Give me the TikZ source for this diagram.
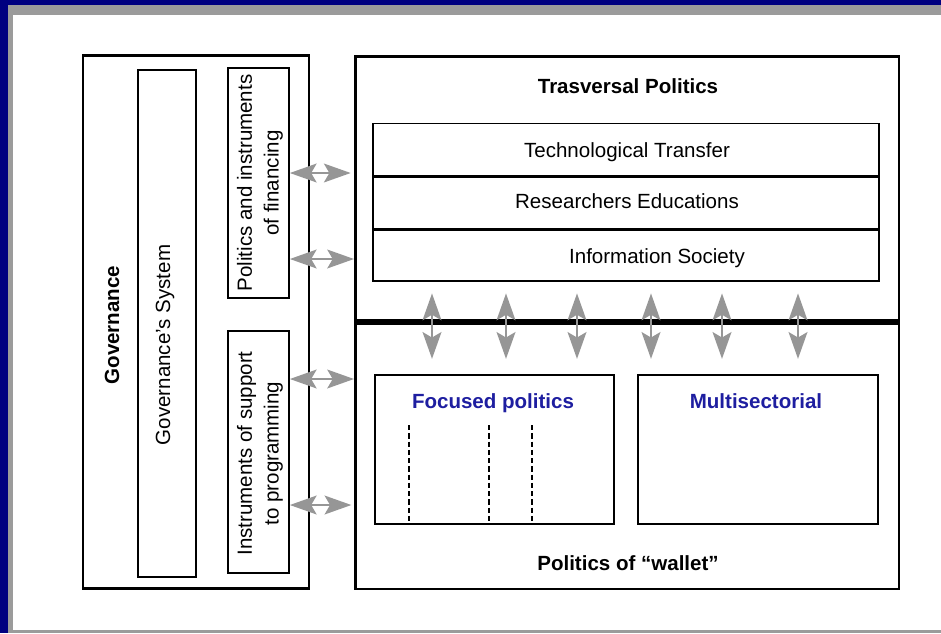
\documentclass[tikz,border=0pt]{standalone}
\usepackage{fontspec}
\setmainfont{Liberation Sans}
\usetikzlibrary{arrows.meta}
\definecolor{framenavy}{RGB}{0,0,128}
\definecolor{framegray}{RGB}{155,155,155}
\definecolor{arrowgray}{RGB}{150,150,150}
\definecolor{titleblue}{RGB}{30,30,160}
\begin{document}
\begin{tikzpicture}[x=0.75pt,y=-0.75pt,
  outerbox/.style={draw, line width=2.2pt, inner sep=0pt},
  innerbox/.style={draw, line width=1.2pt, inner sep=0pt},
  lbl/.style={inner sep=0pt, align=center, font=\fontsize{15.4}{20}\selectfont},
  boldlbl/.style={inner sep=0pt, font=\fontsize{15.4}{20}\selectfont\bfseries},
  dblarrow/.style={draw=arrowgray, line width=2.2pt,
    {Stealth[length=20pt,width=14pt,inset=4pt]}-{Stealth[length=20pt,width=14pt,inset=4pt]}},
  dashline/.style={line width=1pt, dash pattern=on 4pt off 2.2pt}]
\useasboundingbox (0,0) rectangle (941,633);
% window frame
\fill[framenavy] (0,0) rectangle (941,5);
\fill[framenavy] (0,0) rectangle (8,633);
\fill[framegray] (8,5) rectangle (941,15);
\fill[framegray] (8,5) rectangle (13,633);
\fill[framegray] (8,630) rectangle (941,633);
% governance side
\node[outerbox, minimum width=169.5pt, minimum height=399.75pt] (gov) at (196,322) {};
\node[boldlbl, rotate=90, anchor=base] (govtxt) at (119,325) {Governance};
\node[innerbox, minimum width=43.5pt, minimum height=380.25pt] (govsys) at (167,323.5) {};
\node[lbl, rotate=90, anchor=base] (govsystxt) at (170,345) {Governance's System};
\node[innerbox, minimum width=45.75pt, minimum height=172.5pt] (finbox) at (258.5,183) {};
\node[lbl, rotate=90] (fintxt) at (260,183) {Politics and instruments\\of financing};
\node[innerbox, minimum width=45.75pt, minimum height=181.5pt] (progbox) at (258.5,452) {};
\node[lbl, rotate=90] (progtxt) at (260,453.5) {Instruments of support\\to programming};
% politics side
\node[outerbox, minimum width=407.6pt, minimum height=399.4pt] (trans) at (627.25,322.75) {};
\node[boldlbl, anchor=base] (transtxt) at (628,93) {Trasversal Politics};
\node[innerbox, minimum width=379.5pt, minimum height=39.4pt] (techrow) at (626,149.75) {};
\node[innerbox, minimum width=379.5pt, minimum height=39.4pt] (edurow) at (626,202.5) {};
\node[innerbox, minimum width=379.5pt, minimum height=39.4pt] (inforow) at (626,255) {};
\draw[line width=1.9pt] (techrow.south west) -- (techrow.south east);
\draw[line width=1.9pt] (edurow.south west) -- (edurow.south east);
\node[lbl, anchor=base] (techtxt) at (627,157) {Technological Transfer};
\node[lbl, anchor=base] (edutxt) at (627,208.5) {Researchers Educations};
\node[lbl, anchor=base] (infotxt) at (657,263) {Information Society};
\draw[line width=4.3pt] (trans.west |- 0,321.7) -- (trans.east |- 0,321.7);
\node[innerbox, minimum width=179.25pt, minimum height=111.75pt] (focus) at (494.5,449.5) {};
\node[boldlbl, text=titleblue, anchor=base] (focustxt) at (493,408) {Focused politics};
\draw[dashline] (409,425) -- (focus.south -| 409,0);
\draw[dashline] (489,425) -- (focus.south -| 489,0);
\draw[dashline] (532,425) -- (focus.south -| 532,0);
\node[innerbox, minimum width=180pt, minimum height=111.75pt] (multi) at (758,449.5) {};
\node[boldlbl, text=titleblue, anchor=base] (multitxt) at (756,408) {Multisectorial};
\node[boldlbl, anchor=base] (wallettxt) at (628,570) {Politics of “wallet”};
% links
\draw[dblarrow, shorten >=2.5pt] (finbox.east |- 0,173) -- (trans.west |- 0,173);
\draw[dblarrow] (finbox.east |- 0,259) -- (trans.west |- 0,259);
\draw[dblarrow] (progbox.east |- 0,379) -- (trans.west |- 0,379);
\draw[dblarrow, shorten >=2pt] (progbox.east |- 0,505) -- (trans.west |- 0,505);
\foreach \ax/\tgt in {432/focus,506/focus,577/focus,651/multi,722/multi,798/multi}
  \draw[dblarrow, shorten <=8.5pt, shorten >=11.5pt] (inforow.south -| \ax,0) -- (\tgt.north -| \ax,0);
\end{tikzpicture}
\end{document}
